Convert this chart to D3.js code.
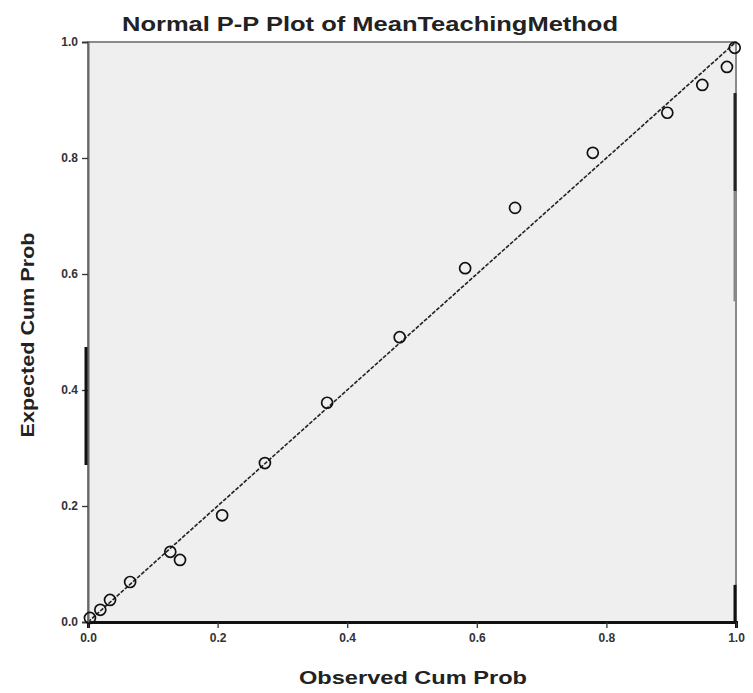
<!DOCTYPE html>
<html>
<head>
<meta charset="utf-8">
<script src="https://cdn.jsdelivr.net/npm/d3@7"></script>
<style>
  html, body { margin: 0; padding: 0; background: #ffffff; }
  svg { display: block; }
</style>
</head>
<body>
<svg id="chart" width="753" height="693"></svg>
<script>
// ---- data ----
const observedCumProb = [0.003, 0.019, 0.034, 0.065, 0.127, 0.142, 0.207, 0.273, 0.369, 0.481, 0.582, 0.659, 0.779, 0.894, 0.948, 0.986, 0.998];
const expectedCumProb = [0.007, 0.021, 0.038, 0.069, 0.121, 0.107, 0.184, 0.274, 0.378, 0.491, 0.610, 0.714, 0.809, 0.878, 0.926, 0.957, 0.990];
const tickValues = [0.0, 0.2, 0.4, 0.6, 0.8, 1.0];
const titleText = "Normal P-P Plot of MeanTeachingMethod";
const xLabelText = "Observed Cum Prob";
const yLabelText = "Expected Cum Prob";

const svg = d3.select("#chart");
const margin = { left: 88, right: 17, top: 42, bottom: 71 };
const W = 753, H = 693;
const x = d3.scaleLinear().domain([0, 1]).range([margin.left, W - margin.right]);
const y = d3.scaleLinear().domain([0, 1]).range([H - margin.bottom, margin.top]);

// plot background / frame
svg.append("rect")
  .attr("x", x(0)).attr("y", y(1))
  .attr("width", x(1) - x(0)).attr("height", y(0) - y(1))
  .attr("fill", "#efefef")
  .attr("stroke", "#8a8a8a").attr("stroke-width", 2);

// reference diagonal
svg.append("line")
  .attr("x1", x(0)).attr("y1", y(0))
  .attr("x2", x(1)).attr("y2", y(1))
  .attr("stroke", "#222").attr("stroke-width", 1.6)
  .attr("stroke-dasharray", "4,1.5");

// axes
const fmt = d3.format(".1f");
const xAxis = svg.append("g")
  .attr("transform", `translate(0,${y(0)})`)
  .call(d3.axisBottom(x).tickValues(tickValues).tickFormat(fmt).tickSize(6).tickPadding(5));
const yAxis = svg.append("g")
  .attr("transform", `translate(${x(0)},0)`)
  .call(d3.axisLeft(y).tickValues(tickValues).tickFormat(fmt).tickSize(6).tickPadding(4));

[xAxis, yAxis].forEach(g => {
  g.selectAll(".tick line").attr("stroke", "#333").attr("stroke-width", 1.3);
  g.selectAll(".tick text")
    .attr("font-family", "'Liberation Sans', Arial, sans-serif")
    .attr("font-size", 12).attr("font-weight", "bold").attr("fill", "#333");
});
xAxis.select(".domain").attr("stroke", "#111").attr("stroke-width", 3);
yAxis.select(".domain").attr("stroke", "#666").attr("stroke-width", 2);

// heavier segments of the frame as seen in the reference
svg.append("line").attr("x1", x(0) - 2).attr("x2", x(0) - 2)
  .attr("y1", y(0.4) - 43).attr("y2", y(0.4) + 75)
  .attr("stroke", "#111").attr("stroke-width", 3);
svg.append("line").attr("x1", x(1) - 1).attr("x2", x(1) - 1)
  .attr("y1", y(0.912)).attr("y2", y(0.743))
  .attr("stroke", "#222").attr("stroke-width", 3);
svg.append("line").attr("x1", x(1) - 1).attr("x2", x(1) - 1)
  .attr("y1", y(0.743)).attr("y2", y(0.553))
  .attr("stroke", "#888").attr("stroke-width", 3);
svg.append("line").attr("x1", x(1) - 1).attr("x2", x(1) - 1)
  .attr("y1", y(0.064)).attr("y2", y(0))
  .attr("stroke", "#111").attr("stroke-width", 3);

// points
svg.append("g").selectAll("circle")
  .data(observedCumProb.map((o, i) => [o, expectedCumProb[i]]))
  .join("circle")
  .attr("cx", d => x(d[0]))
  .attr("cy", d => y(d[1]))
  .attr("r", 5.5)
  .attr("fill", "none")
  .attr("stroke", "#111")
  .attr("stroke-width", 1.7);

// title
svg.append("text")
  .attr("x", 370).attr("y", 31)
  .attr("text-anchor", "middle")
  .attr("font-family", "'Liberation Sans', Arial, sans-serif")
  .attr("font-weight", "bold").attr("font-size", 20)
  .attr("fill", "#222")
  .attr("textLength", 496).attr("lengthAdjust", "spacingAndGlyphs")
  .text(titleText);

// axis labels
svg.append("text")
  .attr("x", 413).attr("y", 684)
  .attr("text-anchor", "middle")
  .attr("font-family", "'Liberation Sans', Arial, sans-serif")
  .attr("font-weight", "bold").attr("font-size", 18)
  .attr("fill", "#222")
  .attr("textLength", 228).attr("lengthAdjust", "spacingAndGlyphs")
  .text(xLabelText);

svg.append("text")
  .attr("transform", "translate(34,335) rotate(-90)")
  .attr("text-anchor", "middle")
  .attr("font-family", "'Liberation Sans', Arial, sans-serif")
  .attr("font-weight", "bold").attr("font-size", 18)
  .attr("fill", "#222")
  .attr("textLength", 205).attr("lengthAdjust", "spacingAndGlyphs")
  .text(yLabelText);
</script>
</body>
</html>
